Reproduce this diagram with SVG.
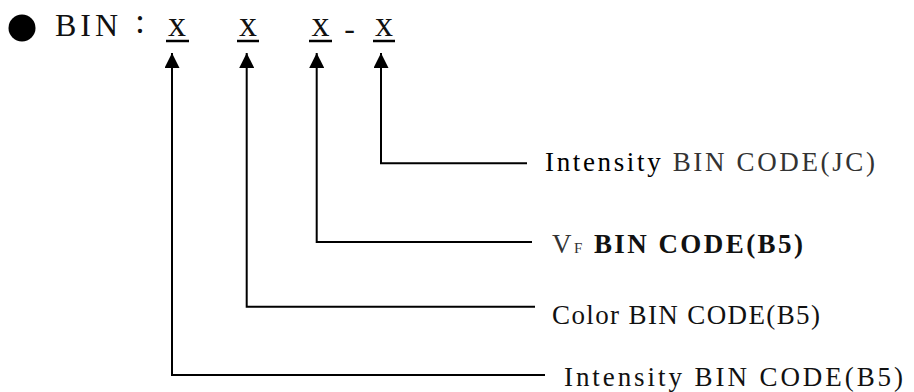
<svg xmlns="http://www.w3.org/2000/svg" width="914" height="392" viewBox="0 0 914 392">
<style>
  .t { font-family: "Liberation Serif", "Times New Roman", serif; fill: #111; }
  .head { font-size: 32px; letter-spacing: 4px; }
  .xx { font-size: 36px; text-anchor: middle; }
  .lbl { font-size: 27px; letter-spacing: 2px; }
  .conn { fill: none; stroke: #000; stroke-width: 2; }
  .ul { stroke: #000; stroke-width: 2.5; }
</style>
<defs>
  <marker id="ah" viewBox="0 0 15 15" refX="15" refY="7.5" markerWidth="15" markerHeight="15" markerUnits="userSpaceOnUse" orient="auto-start-reverse">
    <path d="M0,0 L15,7.5 L0,15 z" fill="#000"/>
  </marker>
</defs>
<rect width="914" height="392" fill="#fff"/>

<g id="title">
  <circle cx="22" cy="28" r="13.5" fill="#000"/>
  <text class="t head" x="55" y="36">BIN</text>
  <text class="t" x="140" y="33" font-size="36" text-anchor="middle">:</text>
</g>

<g id="code">
  <text class="t xx" x="177" y="36">x</text>
  <text class="t xx" x="248" y="36">x</text>
  <text class="t xx" x="320.5" y="36">x</text>
  <text class="t" x="349.5" y="39" font-size="32" text-anchor="middle">-</text>
  <text class="t xx" x="384" y="36">x</text>
  <line class="ul" x1="166" y1="41" x2="189" y2="41"/>
  <line class="ul" x1="237" y1="41" x2="259" y2="41"/>
  <line class="ul" x1="309" y1="41" x2="332" y2="41"/>
  <line class="ul" x1="373" y1="41" x2="395" y2="41"/>
</g>

<g id="connectors">
  <path class="conn" d="M381,53 V163.3 H527" marker-start="url(#ah)"/>
  <path class="conn" d="M316.7,53 V242 H532" marker-start="url(#ah)"/>
  <path class="conn" d="M246.7,53 V306.7 H535" marker-start="url(#ah)"/>
  <path class="conn" d="M172,53 V375 H545" marker-start="url(#ah)"/>
</g>

<g id="label-jc">
  <text class="t lbl" x="545" y="171" textLength="332" lengthAdjust="spacing"><tspan fill="#000">Intensity</tspan><tspan fill="#333"> BIN CODE(JC)</tspan></text>
</g>
<g id="label-vf">
  <text class="t lbl" x="552" y="253" textLength="253" lengthAdjust="spacing"><tspan fill="#333">V</tspan><tspan font-size="15" fill="#333">F</tspan><tspan font-weight="bold"> BIN CODE(B5)</tspan></text>
</g>
<g id="label-color">
  <text class="t lbl" x="552" y="324" textLength="270" lengthAdjust="spacing">Color BIN CODE(B5)</text>
</g>
<g id="label-int">
  <text class="t lbl" x="564" y="386" textLength="341" lengthAdjust="spacing">Intensity BIN CODE(B5)</text>
</g>
</svg>
